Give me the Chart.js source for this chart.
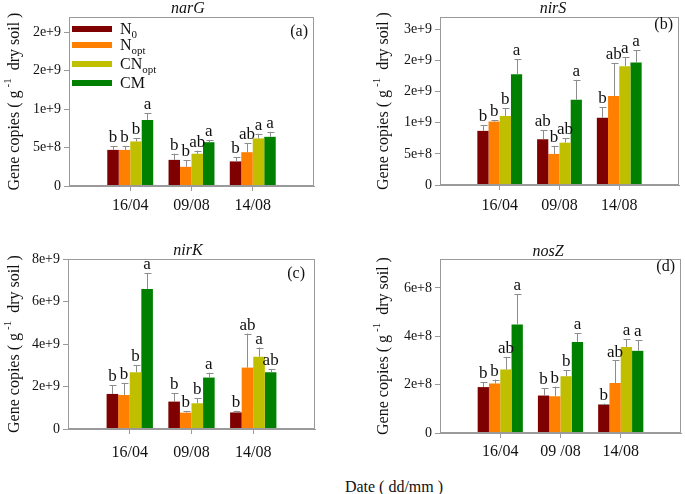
<!DOCTYPE html>
<html>
<head>
<meta charset="utf-8">
<script src="https://cdn.jsdelivr.net/npm/chart.js@4.4.0/dist/chart.umd.min.js"></script>
<style>
html,body{margin:0;padding:0;background:#fff;width:685px;height:494px;overflow:hidden;position:relative}
.p{position:absolute}
.p canvas{display:block}
#xlab{position:absolute;left:294px;width:200px;top:477px;text-align:center;font:16px 'Liberation Serif','Times New Roman',serif;color:#111;line-height:20px}
</style>
</head>
<body>
<div class="p" style="left:0;top:0"><canvas id="cA" width="340" height="232"></canvas></div>
<div class="p" style="left:340px;top:0"><canvas id="cB" width="345" height="232"></canvas></div>
<div class="p" style="left:0;top:235px"><canvas id="cC" width="340" height="235"></canvas></div>
<div class="p" style="left:340px;top:235px"><canvas id="cD" width="345" height="235"></canvas></div>
<div id="xlab">Date ( dd/mm )</div>
<script>
// ---------- data ----------
const categories  = ['16/04', '09/08', '14/08'];
const categoriesD = ['16/04', '09 /08', '14/08'];
const seriesNames = ['N0', 'Nopt', 'CNopt', 'CM'];
const seriesMain  = ['N', 'N', 'CN', 'CM'];
const seriesSub   = ['0', 'opt', 'opt', ''];
const seriesColors = ['#7f0000', '#ff8000', '#bfbf00', '#008000'];

// rows = series (N0, Nopt, CNopt, CM), columns = dates
const narG_mean = [[4.7e8, 3.4e8, 3.2e8], [4.7e8, 2.5e8, 4.4e8], [5.8e8, 4.2e8, 6.2e8], [8.6e8, 5.7e8, 6.4e8]];
const narG_err  = [[0.5e8, 0.8e8, 0.55e8], [0.5e8, 0.85e8, 1.2e8], [0.4e8, 0.4e8, 0.6e8], [0.85e8, 0.3e8, 0.65e8]];
const narG_sig  = [['b', 'b', 'b'], ['b', 'b', 'ab'], ['b', 'ab', 'a'], ['a', 'a', 'a']];
const narG_ticks = [0, 5e8, 1e9, 1.5e9, 2e9];
const narG_tickLabels = ['0', '5e+8', '1e+9', '2e+9', '2e+9'];

const nirS_mean = [[8.7e8, 7.35e8, 1.08e9], [1.02e9, 5.0e8, 1.43e9], [1.11e9, 6.8e8, 1.91e9], [1.78e9, 1.37e9, 1.97e9]];
const nirS_err  = [[0.95e8, 1.45e8, 1.7e8], [0.2e8, 1.3e8, 5.3e8], [1.2e8, 0.7e8, 1.4e8], [2.4e8, 3.2e8, 2.0e8]];
const nirS_sig  = [['b', 'ab', 'b'], ['b', 'b', 'ab'], ['b', 'ab', 'a'], ['a', 'a', 'a']];
const nirS_ticks = [0, 5e8, 1e9, 1.5e9, 2e9, 2.5e9];
const nirS_tickLabels = ['0', '5e+8', '1e+9', '2e+9', '2e+9', '3e+9'];

const nirK_mean = [[1.65e9, 1.29e9, 0.78e9], [1.6e9, 0.77e9, 2.89e9], [2.67e9, 1.21e9, 3.4e9], [6.59e9, 2.42e9, 2.67e9]];
const nirK_err  = [[0.42e9, 0.39e9, 0.08e9], [0.55e9, 0.08e9, 1.6e9], [0.34e9, 0.23e9, 0.43e9], [0.74e9, 0.23e9, 0.14e9]];
const nirK_sig  = [['b', 'b', 'b'], ['b', 'b', 'ab'], ['b', 'b', 'a'], ['a', 'a', 'ab']];
const nirK_ticks = [0, 2e9, 4e9, 6e9, 8e9];
const nirK_tickLabels = ['0', '2e+9', '4e+9', '6e+9', '8e+9'];

const nosZ_mean = [[1.9e8, 1.55e8, 1.18e8], [2.05e8, 1.52e8, 2.07e8], [2.63e8, 2.35e8, 3.56e8], [4.49e8, 3.77e8, 3.4e8]];
const nosZ_err  = [[0.2e8, 0.3e8, 0.04e8], [0.16e8, 0.4e8, 0.93e8], [0.52e8, 0.25e8, 0.33e8], [1.25e8, 0.35e8, 0.43e8]];
const nosZ_sig  = [['b', 'b', 'b'], ['b', 'b', 'ab'], ['ab', 'b', 'a'], ['a', 'a', 'a']];
const nosZ_ticks = [0, 2e8, 4e8, 6e8];
const nosZ_tickLabels = ['0', '2e+8', '4e+8', '6e+8'];

const yMax = {narG: 2.2e9, nirS: 2.7e9, nirK: 8e9, nosZ: 7.2e8};

// ---------- drawing ----------
const SERIF = "'Liberation Serif','Times New Roman',serif";
const AXIS = '#9a9a9a';

function makeDecor(p) {
  return {
    id: 'decor_' + p.id,
    afterDatasetsDraw(chart) {
      const ctx = chart.ctx, ys = chart.scales.y;
      ctx.save();
      chart.data.datasets.forEach((ds, i) => {
        const meta = chart.getDatasetMeta(i);
        meta.data.forEach((bar, j) => {
          const v = ds.data[j];
          if (v == null) return;
          const e = ds.err[j];
          const x = Math.round(bar.x) + 0.5;
          const yTop = ys.getPixelForValue(v + e);
          ctx.strokeStyle = '#8c8c8c';
          ctx.lineWidth = 1;
          ctx.beginPath();
          ctx.moveTo(x, bar.y);
          ctx.lineTo(x, yTop);
          ctx.moveTo(x - 3, Math.round(yTop) + 0.5);
          ctx.lineTo(x + 4, Math.round(yTop) + 0.5);
          ctx.stroke();
          ctx.fillStyle = '#111';
          ctx.font = '17px ' + SERIF;
          ctx.textAlign = 'center';
          ctx.textBaseline = 'alphabetic';
          ctx.fillText(ds.sig[j], bar.x, yTop - 4);
        });
      });
      ctx.restore();
    },
    afterDraw(chart) {
      const ctx = chart.ctx, a = chart.chartArea;
      ctx.save();
      ctx.strokeStyle = AXIS;
      ctx.lineWidth = 1;
      ctx.strokeRect(Math.round(a.left) + 0.5, Math.round(a.top) + 0.5, Math.round(a.right - a.left) - 1, Math.round(a.bottom - a.top) - 1);
      ctx.fillStyle = '#111';
      ctx.font = 'italic 16px ' + SERIF;
      ctx.textAlign = 'center';
      ctx.textBaseline = 'middle';
      ctx.fillText(p.gene, p.titleX, p.titleY);
      ctx.font = '16px ' + SERIF;
      ctx.textAlign = 'right';
      ctx.fillText(p.tag, a.right - p.tagDX, a.top + p.tagDY);
      // y-axis title with superscript
      ctx.save();
      const cy = (a.top + a.bottom) / 2;
      ctx.translate(p.yTitleX, cy);
      ctx.rotate(-Math.PI / 2);
      ctx.textAlign = 'left';
      ctx.textBaseline = 'alphabetic';
      const f = '16px ' + SERIF, fs = '11px ' + SERIF;
      const s1 = 'Gene copies ( g', s2 = '-1', s3 = '  dry soil )';
      ctx.font = f; const w1 = ctx.measureText(s1).width, w3 = ctx.measureText(s3).width;
      ctx.font = fs; const w2 = ctx.measureText(s2).width;
      const tot = w1 + 3 + w2 + w3;
      const x0 = -tot / 2;
      ctx.font = f; ctx.fillText(s1, x0, 5);
      ctx.font = fs; ctx.fillText(s2, x0 + w1 + 3, -3);
      ctx.font = f; ctx.fillText(s3, x0 + w1 + 3 + w2, 5);
      ctx.restore();
      if (p.legend) {
        const ly = [12, 28, 47, 66];
        seriesNames.forEach((n, i) => {
          const yc = a.top + ly[i];
          ctx.fillStyle = seriesColors[i];
          ctx.fillRect(a.left + 3, yc - 3, 40, 6);
          ctx.fillStyle = '#111';
          ctx.textAlign = 'left';
          ctx.textBaseline = 'alphabetic';
          ctx.font = '16px ' + SERIF;
          const tx = a.left + 51;
          ctx.fillText(seriesMain[i], tx, yc + 5);
          const mw = ctx.measureText(seriesMain[i]).width;
          ctx.font = '11px ' + SERIF;
          ctx.fillText(seriesSub[i], tx + mw, yc + 9);
        });
      }
      ctx.restore();
    }
  };
}

function buildChart(p, means, errs, sigs, cats, gene, tickVals, tickLabels) {
  const labels = [''].concat(cats, ['']);
  const datasets = seriesNames.map((n, i) => ({
    label: n,
    data: [null].concat(means[i], [null]),
    err: [null].concat(errs[i], [null]),
    sig: [null].concat(sigs[i], [null]),
    backgroundColor: seriesColors[i],
    borderWidth: 0,
    categoryPercentage: 0.75,
    barPercentage: 1.0
  }));
  return new Chart(document.getElementById(p.id), {
    type: 'bar',
    data: {labels, datasets},
    options: {
      responsive: false,
      animation: false,
      events: [],
      layout: {autoPadding: false, padding: {left: 0, top: p.T, right: p.w - p.R, bottom: p.h - p.B - 32}},
      plugins: {legend: {display: false}, tooltip: {enabled: false}},
      scales: {
        x: {
          type: 'category',
          offset: false,
          afterFit: s => { s.height = 32; },
          grid: {
            offset: false, drawOnChartArea: false, drawTicks: true, tickLength: 5,
            color: c => (c.index >= 1 && c.index <= 3) ? AXIS : 'rgba(0,0,0,0)'
          },
          border: {display: true, color: AXIS},
          ticks: {autoSkip: false, maxRotation: 0, padding: p.xPad, color: '#111', font: {family: SERIF, size: 16}}
        },
        y: {
          type: 'linear',
          min: 0, max: yMax[gene],
          afterFit: s => { s.width = p.L; },
          afterBuildTicks: s => { s.ticks = tickVals.map(v => ({value: v})); },
          grid: {drawOnChartArea: false, drawTicks: true, tickLength: 5, color: AXIS},
          border: {display: true, color: AXIS},
          ticks: {
            autoSkip: false, padding: 3, color: '#111', font: {family: SERIF, size: 14},
            callback: (v) => {
              const k = tickVals.indexOf(v);
              return k >= 0 ? tickLabels[k] : '';
            }
          }
        }
      }
    },
    plugins: [makeDecor(p)]
  });
}

const PA = {id: 'cA', w: 340, h: 232, L: 69, T: 17, R: 314, B: 186, xPad: 5, gene: 'narG', titleX: 188, titleY: 9, tag: '(a)', tagDX: 6, tagDY: 15, yTitleX: 14, legend: true};
const PB = {id: 'cB', w: 345, h: 232, L: 100, T: 17, R: 343, B: 185, xPad: 6, gene: 'nirS', titleX: 213, titleY: 9, tag: '(b)', tagDX: 6, tagDY: 8, yTitleX: 43, legend: false};
const PC = {id: 'cC', w: 340, h: 235, L: 68, T: 24, R: 315, B: 194, xPad: 9, gene: 'nirK', titleX: 188, titleY: 16, tag: '(c)', tagDX: 10, tagDY: 15, yTitleX: 14, legend: false};
const PD = {id: 'cD', w: 345, h: 235, L: 100, T: 24, R: 343, B: 198, xPad: 4, gene: 'nosZ', titleX: 208, titleY: 17, tag: '(d)', tagDX: 6, tagDY: 8, yTitleX: 43, legend: false};

buildChart(PA, narG_mean, narG_err, narG_sig, categories, 'narG', narG_ticks, narG_tickLabels);
buildChart(PB, nirS_mean, nirS_err, nirS_sig, categories, 'nirS', nirS_ticks, nirS_tickLabels);
buildChart(PC, nirK_mean, nirK_err, nirK_sig, categories, 'nirK', nirK_ticks, nirK_tickLabels);
buildChart(PD, nosZ_mean, nosZ_err, nosZ_sig, categoriesD, 'nosZ', nosZ_ticks, nosZ_tickLabels);
</script>
</body>
</html>
